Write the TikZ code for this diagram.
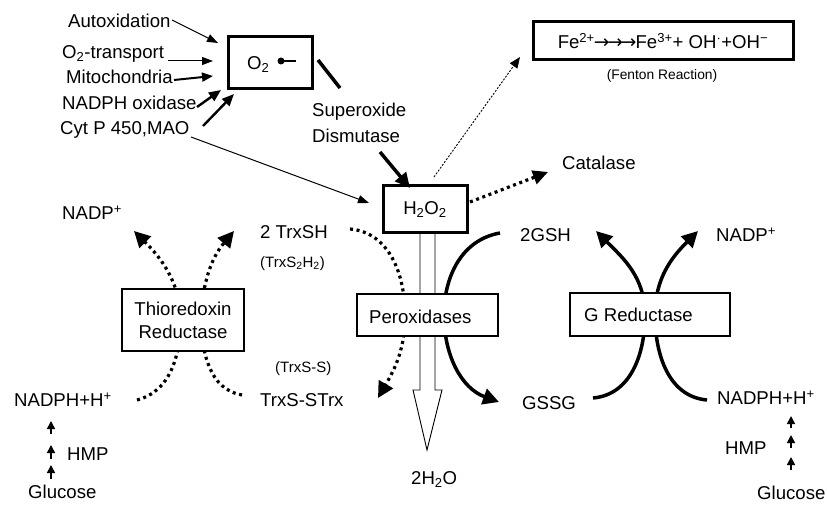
\documentclass[tikz,border=0pt]{standalone}
\usepackage{fontspec}
\setmainfont{Liberation Sans}
\newfontfamily\arrowfont{DejaVu Sans}
\usetikzlibrary{arrows.meta}
\begin{document}
\begin{tikzpicture}[x=1pt,y=1pt,
  lbl/.style={inner sep=0pt, anchor=base west, font=\fontsize{18.6}{22}\selectfont},
  small/.style={inner sep=0pt, anchor=base west, font=\fontsize{15}{18}\selectfont},
  thickbox/.style={draw, line width=3pt, fill=white, inner sep=0pt, font=\fontsize{18.6}{22}\selectfont},
  thinbox/.style={draw, line width=1.5pt, fill=white, inner sep=0pt, font=\fontsize{18.6}{23}\selectfont},
  dots/.style={line width=3.2pt, dash pattern=on 3pt off 3.6pt},
  solidarc/.style={line width=3.5pt},
  bighead/.style={-{Triangle[length=16pt,width=16pt]}},
  thinarrow/.style={line width=1pt, -{Triangle[length=11pt,width=8pt]}},
  midarrow/.style={line width=2.4pt, -{Triangle[length=12pt,width=10pt]}},
  tinyarrow/.style={line width=1.6pt, -{Triangle[length=8pt,width=8pt]}}
]
\useasboundingbox (0,0) rectangle (827,504);

% ---------- hollow arrow H2O2 -> 2H2O ----------
\draw[line width=0.9pt, fill=white] (420,271) -- (420,114) -- (413,114) -- (427,54) -- (442,114) -- (435,114) -- (435,271);

% ---------- coordinates for connector ends ----------
\coordinate (nadphLe) at (137,104);
\coordinate (trxmidL) at (182,184);
\coordinate (nadpLtip) at (134,273);
\coordinate (trxsstrxe) at (242,109);
\coordinate (trxmidR) at (200,184);
\coordinate (trxshtip) at (234,273);
\coordinate (trxshe) at (350,275);
\coordinate (peromidL) at (405,189);
\coordinate (trxsstrxtip) at (378,106);
\coordinate (gshe) at (500,271);
\coordinate (peromidR) at (444,189);
\coordinate (gssgtip) at (499,102);
\coordinate (gssge) at (593,106);
\coordinate (grmidL) at (645,189);
\coordinate (gshtip) at (596,273);
\coordinate (nadphRe) at (707,104);
\coordinate (grmidR) at (655,189);
\coordinate (nadpRtip) at (698,273);

% ---------- thioredoxin cycle (dotted) ----------
\draw[dots, bighead] (nadphLe) to[out=15,in=-95] (trxmidL) to[out=95,in=-45] (nadpLtip);
\draw[dots, bighead] (trxsstrxe) to[out=170,in=-85] (trxmidR) to[out=85,in=-130] (trxshtip);

% ---------- peroxidase arcs ----------
\draw[dots, bighead] (trxshe) to[out=-5,in=90] (peromidL) to[out=-90,in=60] (trxsstrxtip);
\draw[solidarc, bighead] (gshe) to[out=190,in=90] (peromidR) to[out=-90,in=160] (gssgtip);

% ---------- glutathione reductase cycle ----------
\draw[solidarc, bighead] (gssge) to[out=5,in=-90] (grmidL) to[out=90,in=-45] (gshtip);
\draw[solidarc, bighead] (nadphRe) to[out=175,in=-90] (grmidR) to[out=90,in=-135] (nadpRtip);

% ---------- boxes ----------
\node[thickbox, minimum width=84pt, minimum height=52pt] (o2box) at (270,441) {};
\node[thickbox, minimum width=84pt, minimum height=47pt] (h2o2) at (425,294.5) {H\textsubscript{2}O\textsubscript{2}};
\node[thickbox, minimum width=260pt, minimum height=38pt] (fenton) at (663,463)
  {Fe\textsuperscript{2+}{\arrowfont\kern-1pt→\kern-2pt→\kern-2pt→\kern-1pt}Fe\textsuperscript{3+}+ OH\textsuperscript{·}+OH\textsuperscript{−}};
\node[thinbox, minimum width=122pt, minimum height=62pt, align=center] (trxred) at (183,184) {Thioredoxin\\Reductase};
\node[thinbox, line width=2pt, minimum width=141pt, minimum height=42pt] (perox) at (427.5,189) {};
\node[thinbox, minimum width=160pt, minimum height=43pt] (grbox) at (650,189.5) {};
\node[lbl] (peroxt) at (369,180.5) {Peroxidases};
\node[lbl] (grt) at (584,182.5) {G Reductase};

% ---------- O2 radical inside box ----------
\node[lbl] (o2t) at (247,434.5) {O\textsubscript{2}};
\coordinate (o2dot) at (281,443);
\coordinate (o2dote) at (296,443);
\fill (o2dot) circle (3.5pt);
\draw[line width=1.2pt] (o2dot) -- (o2dote);

% ---------- text labels ----------
\node[lbl] (auto) at (68,476.5) {Autoxidation};
\node[lbl] (o2tr) at (62,445.5) {O\textsubscript{2}-transport};
\node[lbl] (mito) at (66,420.5) {Mitochondria};
\node[lbl] (nox) at (62,394.5) {NADPH oxidase};
\node[lbl] (cyt) at (60,369.5) {Cyt P 450,MAO};
\node[lbl] (sod1) at (312,387.5) {Superoxide};
\node[lbl] (sod2) at (312,361.5) {Dismutase};
\node[inner sep=0pt, anchor=base, font=\fontsize{13.8}{16}\selectfont] (fentonlbl) at (662,424.2) {(Fenton Reaction)};
\node[lbl] (catalase) at (562,334.5) {Catalase};
\node[lbl] (nadpL) at (62,284.5) {NADP\textsuperscript{+}};
\node[lbl] (trxsh) at (260,265.5) {2 TrxSH};
\node[small] (trxs2h2) at (260,236.6) {(TrxS\textsubscript{2}H\textsubscript{2})};
\node[lbl] (gsh) at (520,262.5) {2GSH};
\node[lbl] (nadpR) at (716,262.5) {NADP\textsuperscript{+}};
\node[small] (trxss) at (275,131.6) {(TrxS-S)};
\node[lbl] (trxsstrx) at (260,97.5) {TrxS-STrx};
\node[lbl] (nadphL) at (14,97.5) {NADPH+H\textsuperscript{+}};
\node[lbl] (gssg) at (522,94.5) {GSSG};
\node[lbl] (nadphR) at (717,99.5) {NADPH+H\textsuperscript{+}};
\node[lbl] (hmpL) at (67,43.5) {HMP};
\node[lbl] (glucL) at (28,5.5) {Glucose};
\node[lbl] (h2o) at (411,19.5) {2H\textsubscript{2}O};
\node[lbl] (hmpR) at (725,49.5) {HMP};
\node[lbl] (glucR) at (757,4.5) {Glucose};

% ---------- source arrows into O2 ----------
\coordinate (a1s) at (172,484); \coordinate (a1e) at (218,461);
\coordinate (a2s) at (168,443); \coordinate (a2e) at (213,443);
\coordinate (a3s) at (174,424); \coordinate (a3e) at (213,428);
\coordinate (a4s) at (197,397); \coordinate (a4e) at (221,414);
\coordinate (a5s) at (203,378); \coordinate (a5e) at (234,410);
\coordinate (a6s) at (191,367); \coordinate (a6e) at (369,301);
\draw[thinarrow] (a1s) -- (a1e);
\draw[thinarrow] (a2s) -- (a2e);
\draw[line width=2pt, -{Triangle[length=11pt,width=9pt]}] (a3s) -- (a3e);
\draw[midarrow] (a4s) -- (a4e);
\draw[midarrow] (a5s) -- (a5e);
\draw[thinarrow] (a6s) -- (a6e);

% ---------- superoxide dismutase ----------
\coordinate (sodls) at (318,444); \coordinate (sodle) at (340,416);
\draw[line width=3.5pt] (sodls) -- (sodle);
\coordinate (sodas) at (380,352); \coordinate (sodae) at (410,316);
\draw[line width=3.5pt, -{Triangle[length=15pt,width=14pt]}] (sodas) -- (sodae);

% ---------- Fenton and catalase ----------
\coordinate (fens) at (434,327); \coordinate (fene) at (520,447);
\draw[line width=0.9pt, dash pattern=on 2pt off 1.5pt, -{Triangle[length=11pt,width=9pt]}] (fens) -- (fene);
\coordinate (cats) at (470,302); \coordinate (cate) at (548,332);
\draw[dots, -{Triangle[length=15pt,width=14pt]}] (cats) -- (cate);

% ---------- small HMP arrows ----------
\foreach \b/\t [count=\i] in {70/83, 45/59, 25/39} {
  \coordinate (hl\i s) at (51,\b); \coordinate (hl\i e) at (51,\t);
  \draw[tinyarrow] (hl\i s) -- (hl\i e);
}
\foreach \b/\t [count=\i] in {76/88, 56/69, 34/47} {
  \coordinate (hr\i s) at (791,\b); \coordinate (hr\i e) at (791,\t);
  \draw[tinyarrow] (hr\i s) -- (hr\i e);
}
\end{tikzpicture}
\end{document}
